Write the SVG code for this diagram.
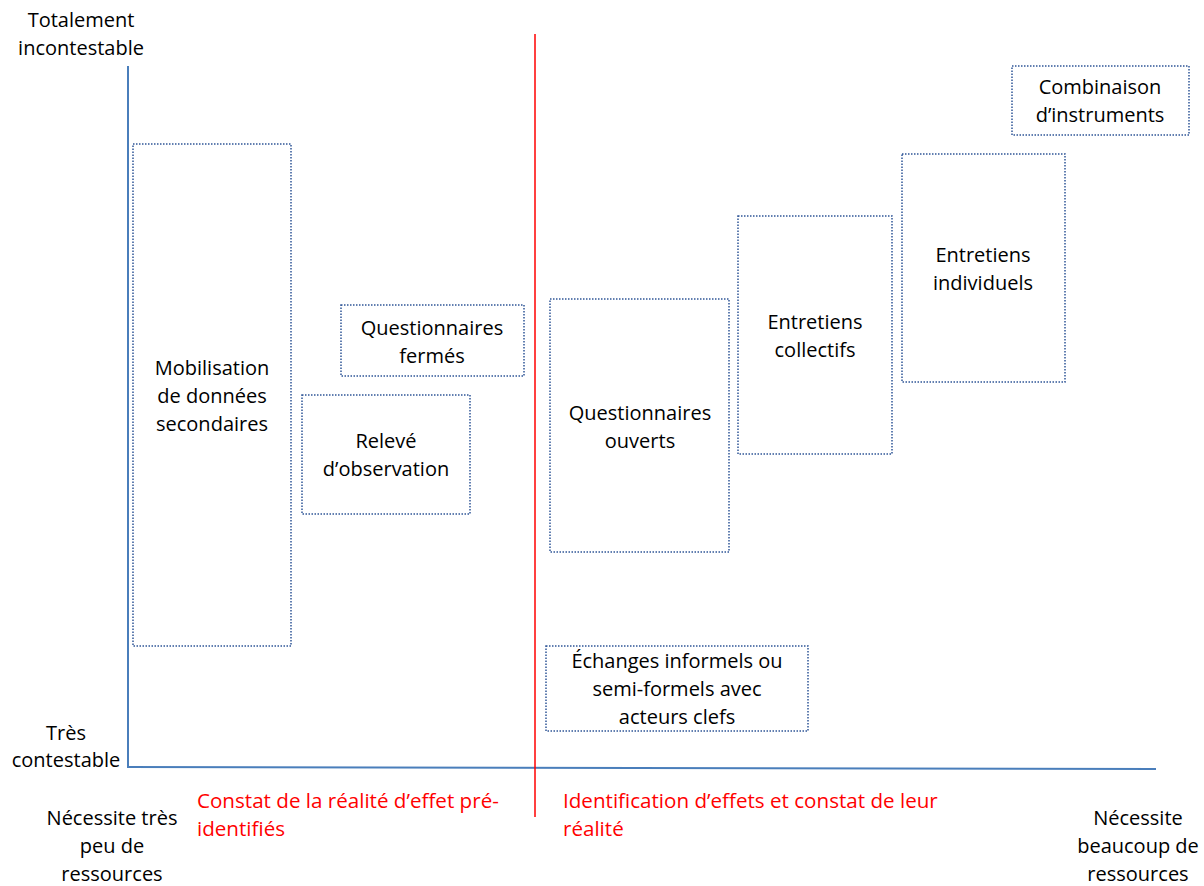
<svg xmlns="http://www.w3.org/2000/svg" width="1204" height="886" viewBox="0 0 1204 886">
<style>
.t{font-family:"Open Sans","Liberation Sans",sans-serif;font-size:20px;fill:#000;text-anchor:middle}
.r{font-family:"Open Sans","Liberation Sans",sans-serif;font-size:20.6px;fill:#ff0000}
.b{fill:#fff;stroke:#2f5597;stroke-width:1.5;stroke-dasharray:1.5 1.5}
.ax{stroke:#4a7ebb;stroke-width:2;fill:none}
.sep{stroke:#ff0000;stroke-width:1.5;fill:none}
</style>
<rect width="1204" height="886" fill="#fff"/>
<g id="axes">
<line class="ax" x1="128" y1="66" x2="128" y2="768"/>
<line class="ax" x1="127" y1="767" x2="1156" y2="769"/>
<line class="sep" x1="535" y1="34" x2="535" y2="817"/>
</g>
<g id="labels">
<text class="t" x="81" y="27">Totalement</text>
<text class="t" x="81" y="55">incontestable</text>
<text class="t" x="66" y="740">Très</text>
<text class="t" x="66" y="767">contestable</text>
<text class="t" x="112" y="825">Nécessite très</text>
<text class="t" x="112" y="853">peu de</text>
<text class="t" x="112" y="881">ressources</text>
<text class="t" x="1138" y="825">Nécessite</text>
<text class="t" x="1138" y="853">beaucoup de</text>
<text class="t" x="1138" y="881">ressources</text>
<text class="r" x="197" y="808">Constat de la réalité d’effet pré-</text>
<text class="r" x="197" y="836">identifiés</text>
<text class="r" x="563" y="808">Identification d’effets et constat de leur</text>
<text class="r" x="563" y="836">réalité</text>
</g>
<g id="mobilisation">
<rect class="b" x="133" y="144" width="158" height="502"/>
<text class="t" x="212" y="375">Mobilisation</text>
<text class="t" x="212" y="403">de données</text>
<text class="t" x="212" y="431">secondaires</text>
</g>
<g id="questionnaires-fermes">
<rect class="b" x="341" y="305" width="183" height="71"/>
<text class="t" x="432" y="335">Questionnaires</text>
<text class="t" x="432" y="363">fermés</text>
</g>
<g id="releve">
<rect class="b" x="302" y="395" width="168" height="119"/>
<text class="t" x="386" y="448">Relevé</text>
<text class="t" x="386" y="476">d’observation</text>
</g>
<g id="questionnaires-ouverts">
<rect class="b" x="550" y="299" width="179" height="253"/>
<text class="t" x="640" y="420">Questionnaires</text>
<text class="t" x="640" y="448">ouverts</text>
</g>
<g id="entretiens-collectifs">
<rect class="b" x="738" y="216" width="154" height="238"/>
<text class="t" x="815" y="329">Entretiens</text>
<text class="t" x="815" y="357">collectifs</text>
</g>
<g id="entretiens-individuels">
<rect class="b" x="902" y="154" width="163" height="228"/>
<text class="t" x="983" y="262">Entretiens</text>
<text class="t" x="983" y="290">individuels</text>
</g>
<g id="combinaison">
<rect class="b" x="1012" y="66" width="177" height="69"/>
<text class="t" x="1100" y="94">Combinaison</text>
<text class="t" x="1100" y="122">d’instruments</text>
</g>
<g id="echanges">
<rect class="b" x="546" y="646" width="262" height="85"/>
<text class="t" x="677" y="668">Échanges informels ou</text>
<text class="t" x="677" y="696">semi-formels avec</text>
<text class="t" x="677" y="724">acteurs clefs</text>
</g>
</svg>
